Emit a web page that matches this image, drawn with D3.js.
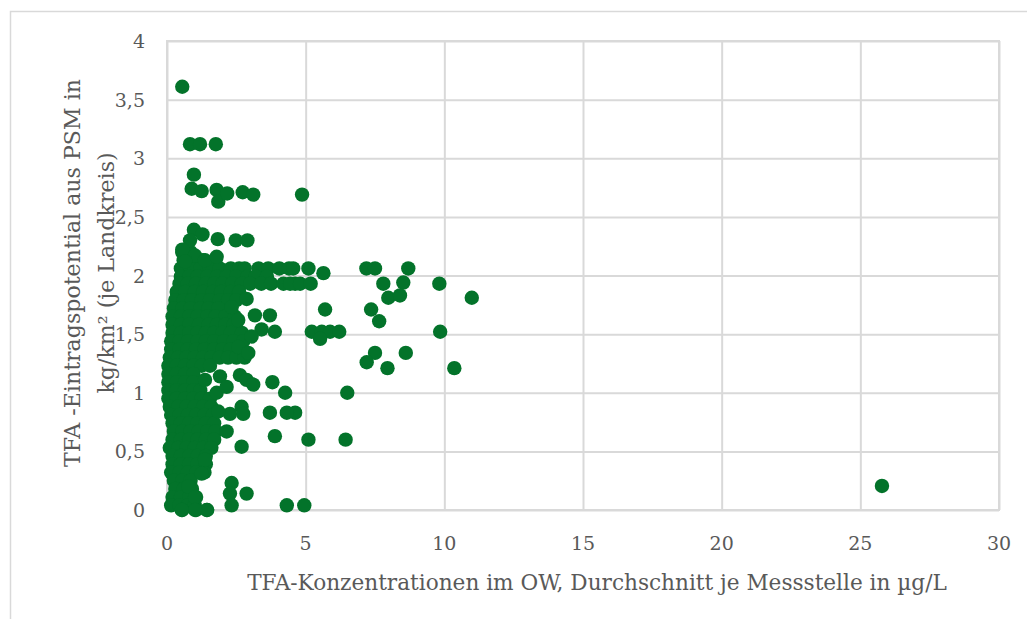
<!DOCTYPE html>
<html><head><meta charset="utf-8">
<script src="https://cdn.jsdelivr.net/npm/d3@7"></script>
<style>html,body{margin:0;padding:0;background:#fff;}svg{display:block;}</style>
</head><body>
<svg id="chart" width="1027" height="619"></svg>
<script>
// ---- data ----
const xTicks = [0, 5, 10, 15, 20, 25, 30];
const yTicks = [0, 0.5, 1, 1.5, 2, 2.5, 3, 3.5, 4];
const xTitle = "TFA-Konzentrationen im OW, Durchschnitt je Messstelle in µg/L";
const yTitleLine1 = "TFA -Eintragspotential aus PSM in";
const yTitleLine2 = "kg/km² (je Landkreis)";

// dense cluster near the origin (x = µg/L, y = kg/km²), one row per line
const denseX = [
  0.55, 0.85,
  0.6, 0.95, 1.3, 1.75,
  0.5, 0.85, 1.2, 1.55, 1.9, 2.3, 2.6, 2.8, 3.3, 3.65, 4.05, 4.4,
  0.5, 0.8, 1.1, 1.45, 1.8, 2.15, 2.5, 2.9, 3.2, 3.6,
  0.45, 0.75, 1.05, 1.4, 1.7, 2.0, 2.35, 2.7, 3.0, 3.4, 3.75, 4.2, 4.62,
  0.35, 0.65, 1.0, 1.3, 1.65, 1.95, 2.3, 2.6,
  0.3, 0.6, 0.9, 1.25, 1.55, 1.9, 2.2, 2.5,
  0.25, 0.55, 0.85, 1.2, 1.5, 1.85,
  0.2, 0.5, 0.8, 1.1, 1.45, 1.75, 2.1, 2.45,
  0.2, 0.5, 0.8, 1.15, 1.5, 1.8, 2.1, 2.4,
  0.2, 0.5, 0.8, 1.1, 1.4, 1.7, 2.0, 2.3, 2.7,
  0.15, 0.45, 0.75, 1.1, 1.4, 1.7, 2.05, 2.4, 2.75,
  0.15, 0.45, 0.75, 1.05, 1.35, 1.7, 2.0, 2.3,
  0.1, 0.4, 0.7, 1.0, 1.3, 1.6, 1.9, 2.2, 2.5, 2.8,
  0.05, 0.35, 0.65, 0.95, 1.25, 1.55,
  0.05, 0.35, 0.65, 0.95,
  0.05, 0.35, 0.65, 0.95,
  0.05, 0.35, 0.65, 0.95, 1.2,
  0.05, 0.35, 0.65, 0.95, 1.25, 1.55,
  0.1, 0.4, 0.7, 1.0, 1.3, 1.6,
  0.15, 0.45, 0.75, 1.05, 1.35, 1.65,
  0.2, 0.5, 0.8, 1.1, 1.4, 1.7,
  0.25, 0.55, 0.85, 1.15, 1.45, 1.75,
  0.2, 0.5, 0.8, 1.1, 1.4, 1.7,
  0.1, 0.4, 0.7, 1.0, 1.3, 1.6,
  0.2, 0.5, 0.8, 1.1, 1.4,
  0.2, 0.5, 0.8, 1.1, 1.4,
  0.15, 0.45, 0.75, 1.05, 1.35,
  0.25, 0.55, 0.85,
  0.3, 0.6, 0.9,
  0.2, 0.5, 0.8, 1.05,
  0.15, 0.45, 0.75, 1.0,
  0.55, 1.05, 1.45
];
const denseY = [
  2.20, 2.20,
  2.13, 2.13, 2.13, 2.13,
  2.06, 2.06, 2.06, 2.06, 2.06, 2.06, 2.06, 2.06, 2.06, 2.06, 2.06, 2.06,
  1.99, 1.99, 1.99, 1.99, 1.99, 1.99, 1.99, 1.99, 1.99, 1.99,
  1.93, 1.93, 1.93, 1.93, 1.93, 1.93, 1.93, 1.93, 1.93, 1.93, 1.93, 1.93, 1.93,
  1.86, 1.86, 1.86, 1.86, 1.86, 1.86, 1.86, 1.86,
  1.79, 1.79, 1.79, 1.79, 1.79, 1.79, 1.79, 1.79,
  1.72, 1.72, 1.72, 1.72, 1.72, 1.72,
  1.65, 1.65, 1.65, 1.65, 1.65, 1.65, 1.65, 1.65,
  1.58, 1.58, 1.58, 1.58, 1.58, 1.58, 1.58, 1.58,
  1.51, 1.51, 1.51, 1.51, 1.51, 1.51, 1.51, 1.51, 1.51,
  1.44, 1.44, 1.44, 1.44, 1.44, 1.44, 1.44, 1.44, 1.44,
  1.37, 1.37, 1.37, 1.37, 1.37, 1.37, 1.37, 1.37,
  1.30, 1.30, 1.30, 1.30, 1.30, 1.30, 1.30, 1.30, 1.30, 1.30,
  1.23, 1.23, 1.23, 1.23, 1.23, 1.23,
  1.16, 1.16, 1.16, 1.16,
  1.09, 1.09, 1.09, 1.09,
  1.02, 1.02, 1.02, 1.02, 1.02,
  0.95, 0.95, 0.95, 0.95, 0.95, 0.95,
  0.88, 0.88, 0.88, 0.88, 0.88, 0.88,
  0.81, 0.81, 0.81, 0.81, 0.81, 0.81,
  0.74, 0.74, 0.74, 0.74, 0.74, 0.74,
  0.67, 0.67, 0.67, 0.67, 0.67, 0.67,
  0.60, 0.60, 0.60, 0.60, 0.60, 0.60,
  0.53, 0.53, 0.53, 0.53, 0.53, 0.53,
  0.46, 0.46, 0.46, 0.46, 0.46,
  0.39, 0.39, 0.39, 0.39, 0.39,
  0.32, 0.32, 0.32, 0.32, 0.32,
  0.25, 0.25, 0.25,
  0.18, 0.18, 0.18,
  0.11, 0.11, 0.11, 0.11,
  0.04, 0.04, 0.04, 0.04,
  0.00, 0.00, 0.00
];

// scattered measurement sites
const sparseX = [
  0.55,
  0.83, 1.19, 1.76,
  0.97,
  0.89, 1.25, 1.79, 1.85, 2.17, 2.73, 3.11, 4.87,
  0.97, 1.28, 1.83, 2.48, 2.90, 0.83, 0.55,
  1.01, 1.37, 1.79, 0.65,
  4.55, 5.10, 5.64, 7.19, 7.50, 8.70,
  4.44, 4.80, 5.18, 7.80, 8.52, 9.82,
  10.99, 7.98, 8.40,
  5.70, 7.36, 7.65,
  5.22, 5.58, 5.88, 6.21, 5.52, 9.85,
  7.50, 7.20, 8.61, 7.95, 10.36,
  6.50, 4.62, 5.10, 6.44, 4.95, 4.32,
  25.78,
  3.17, 3.71, 2.87, 2.33, 2.57,
  3.89, 3.41, 3.05, 2.57, 2.93,
  1.37, 1.91, 1.79, 2.15, 2.63, 2.87, 3.11, 3.80, 4.26,
  2.69, 2.27, 2.75, 1.85, 3.71, 4.32,
  2.15, 3.89, 2.69, 1.37,
  1.25, 2.33, 2.27, 2.87, 2.33,
  0.77, 1.01, 1.43, 1.01, 0.53
];
const sparseY = [
  3.61,
  3.12, 3.12, 3.12,
  2.86,
  2.74, 2.72, 2.73, 2.63, 2.70, 2.71, 2.69, 2.69,
  2.39, 2.35, 2.31, 2.30, 2.30, 2.30, 2.22,
  2.17, 2.13, 2.16, 2.12,
  2.06, 2.06, 2.02, 2.06, 2.06, 2.06,
  1.93, 1.93, 1.93, 1.93, 1.94, 1.93,
  1.81, 1.81, 1.83,
  1.71, 1.71, 1.61,
  1.52, 1.52, 1.52, 1.52, 1.46, 1.52,
  1.34, 1.26, 1.34, 1.21, 1.21,
  1.00, 0.83, 0.60, 0.60, 0.04, 0.04,
  0.205,
  1.66, 1.66, 1.80, 1.73, 1.62,
  1.52, 1.54, 1.48, 1.39, 1.34,
  1.11, 1.14, 1.00, 1.05, 1.15, 1.11, 1.07, 1.09, 1.00,
  0.88, 0.82, 0.82, 0.84, 0.83, 0.83,
  0.67, 0.63, 0.54, 0.43,
  0.31, 0.23, 0.14, 0.14, 0.04,
  0.20, 0.11, 0.00, 0.00, 0.00
];

// ---- drawing ----
const W = 1027, H = 619;
const svg = d3.select("#chart");
const FONT = "'DejaVu Serif', 'Liberation Serif', serif";
const TEXT = "#595959";
const GRID = "#d9d9d9";
const DOT = "#03732a";

// outer chart frame (only top/left visible)
svg.append("path").attr("d", "M10.5,619 V11.5 H1027").attr("fill", "none")
  .attr("stroke", GRID).attr("stroke-width", 1.5);

const x = d3.scaleLinear().domain([0, 30]).range([167, 999]);
const y = d3.scaleLinear().domain([0, 4]).range([510, 41]);

// gridlines via axes
const gx = svg.append("g").attr("transform", `translate(0,${y(0)})`)
  .call(d3.axisBottom(x).tickValues(xTicks).tickSize(-(y(0) - y(4))).tickFormat(""));
const gy = svg.append("g").attr("transform", `translate(${x(0)},0)`)
  .call(d3.axisLeft(y).tickValues(yTicks).tickSize(-(x(30) - x(0))).tickFormat(""));
[gx, gy].forEach(g => {
  g.select(".domain").remove();
  g.selectAll(".tick line").attr("stroke", GRID).attr("stroke-width", 2);
});
svg.append("rect").attr("x", x(0)).attr("y", y(4)).attr("width", x(30) - x(0)).attr("height", y(0) - y(4))
  .attr("fill", "none").attr("stroke", GRID).attr("stroke-width", 2);

// tick labels
const fmt = d => String(d).replace(".", ",");
svg.append("g").selectAll("text").data(xTicks).join("text")
  .attr("x", d => x(d)).attr("y", 550).attr("text-anchor", "middle")
  .attr("font-family", FONT).attr("font-size", 19).attr("fill", TEXT).text(d => fmt(d));
svg.append("g").selectAll("text").data(yTicks).join("text")
  .attr("x", 145).attr("y", d => y(d) + 7).attr("text-anchor", "end")
  .attr("font-family", FONT).attr("font-size", 19).attr("fill", TEXT).text(d => fmt(d));

// axis titles (scaled to the reference widths)
function fitText(sel, target) {
  const w = sel.node().getComputedTextLength();
  const fs = parseFloat(sel.attr("font-size"));
  sel.attr("font-size", (fs * target / w).toFixed(2));
}
const xt = svg.append("text").attr("x", 597).attr("y", 590).attr("text-anchor", "middle")
  .attr("font-family", FONT).attr("font-size", 20).attr("fill", TEXT).text(xTitle);
fitText(xt, 700);
const yt1 = svg.append("text").attr("transform", "translate(80,273) rotate(-90)").attr("text-anchor", "middle")
  .attr("font-family", FONT).attr("font-size", 20).attr("fill", TEXT).text(yTitleLine1);
fitText(yt1, 388);
const yt2 = svg.append("text").attr("transform", "translate(114,273) rotate(-90)").attr("text-anchor", "middle")
  .attr("font-family", FONT).attr("font-size", yt1.attr("font-size")).attr("fill", TEXT).text(yTitleLine2);

// points
const pts = denseX.map((d, i) => [d, denseY[i]]).concat(sparseX.map((d, i) => [d, sparseY[i]]));
svg.append("g").selectAll("circle").data(pts).join("circle")
  .attr("cx", d => x(d[0])).attr("cy", d => y(d[1])).attr("r", 7.2).attr("fill", DOT);
</script>
</body></html>
